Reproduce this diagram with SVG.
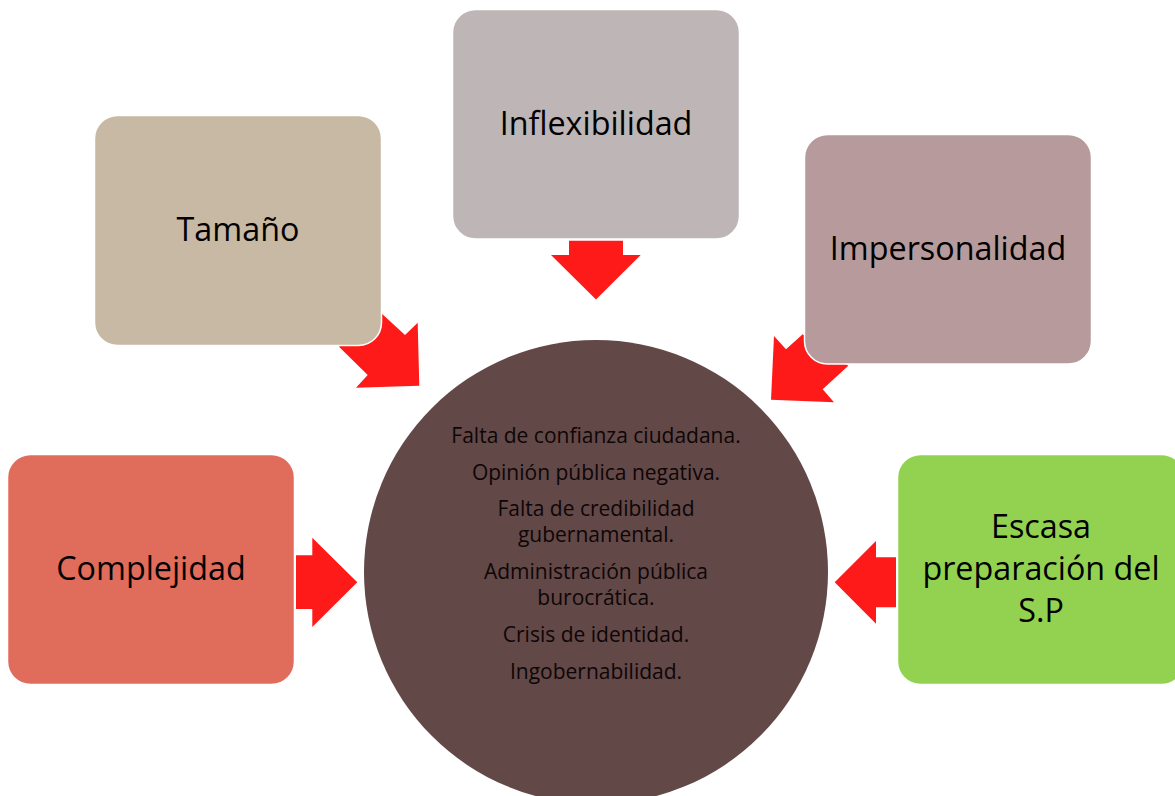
<svg xmlns="http://www.w3.org/2000/svg" width="1175" height="796" viewBox="0 0 1175 796">
<style>
.box{stroke:#fff;stroke-width:1.500}
.arrow{fill:#FF1A1A}
text{font-family:"Open Sans","Noto Sans","Liberation Sans",sans-serif;fill:#000;text-anchor:middle}
.big{font-size:32.300px}
.small{font-size:21px;fill:#0d0606}
</style>
<rect width="1175" height="796" fill="#fff"/>
<g id="connectors">
<polygon class="arrow" points="569,240.7 623,240.7 623,255 640.7,255 596,299.5 551,255 569,255"/>
<polygon class="arrow" points="380,312 405,335 417.7,322.7 419.3,385.7 356,387.7 367.7,375 339,346.7"/>
<polygon class="arrow" points="774,336 786,349.3 802.7,334.3 848.3,365.7 822.7,389.3 834,402.3 771,399.7"/>
<polygon class="arrow" points="296,555.3 312.3,555.3 312.3,537.7 357.3,582.3 312.3,627 312.3,609 296,609"/>
<polygon class="arrow" points="896,557.3 876,557.3 876,541 834.7,582.3 876,623.7 876,607.3 896,607.3"/>
</g>
<g id="tamano"><rect class="box" x="94.500" y="115.500" width="287" height="230" rx="23" fill="#C7B9A3"/><text class="big" x="238" y="241">Tamaño</text></g>
<g id="inflexibilidad"><rect class="box" x="452.500" y="9.500" width="287" height="229.500" rx="23" fill="#BEB5B6"/><text class="big" x="596" y="135">Inflexibilidad</text></g>
<g id="impersonalidad"><rect class="box" x="804.500" y="134.500" width="287" height="229.500" rx="23" fill="#B79A9B"/><text class="big" x="948" y="260">Impersonalidad</text></g>
<g id="complejidad"><rect class="box" x="7.500" y="454.500" width="287" height="230" rx="23" fill="#E06C5B"/><text class="big" x="151" y="580">Complejidad</text></g>
<g id="escasa"><rect class="box" x="897.500" y="454.500" width="287" height="230" rx="23" fill="#93D250"/><text class="big" x="1041" y="538">Escasa</text><text class="big" x="1041" y="580">preparación del</text><text class="big" x="1041" y="622">S.P</text></g>
<g id="centro"><circle cx="596" cy="572" r="232" fill="#634848"/>
<text class="small" x="596" y="443">Falta de confianza ciudadana.</text>
<text class="small" x="596" y="480">Opinión pública negativa.</text>
<text class="small" x="596" y="516">Falta de credibilidad</text>
<text class="small" x="596" y="542">gubernamental.</text>
<text class="small" x="596" y="579">Administración pública</text>
<text class="small" x="596" y="605">burocrática.</text>
<text class="small" x="596" y="642">Crisis de identidad.</text>
<text class="small" x="596" y="679">Ingobernabilidad.</text>
</g>
</svg>
